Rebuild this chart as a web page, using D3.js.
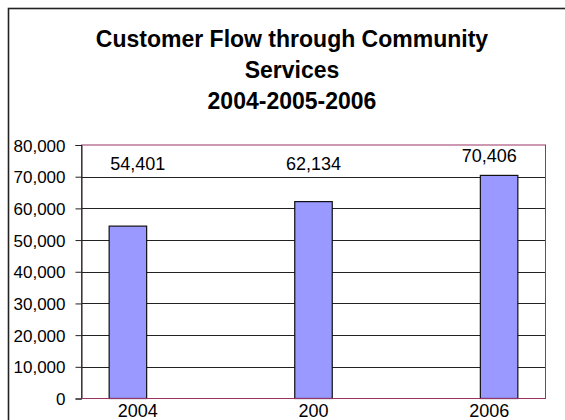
<!DOCTYPE html>
<html>
<head>
<meta charset="utf-8">
<script src="https://cdn.jsdelivr.net/npm/d3@7/dist/d3.min.js"></script>
<style>
  html, body { margin: 0; padding: 0; background: #fff; }
  svg { display: block; font-family: "Liberation Sans", Arial, sans-serif; }
</style>
</head>
<body>
<svg id="chart" width="565" height="420"></svg>
<script>
// Customer flow counts by year
const years = ["2004", "200", "2006"];
const customers = [54401, 62134, 70406];
const yTicks = [0, 10000, 20000, 30000, 40000, 50000, 60000, 70000, 80000];
const titleLines = ["Customer Flow through Community", "Services", "2004-2005-2006"];

const svg = d3.select("#chart");
const plot = { left: 81.5, right: 545.5, top: 145, bottom: 398.5 };

// Outer chart frame (continues past the window on the right and bottom)
svg.append("rect")
  .attr("x", 8.5).attr("y", 8.5)
  .attr("width", 700).attr("height", 700)
  .attr("fill", "#fff")
  .attr("stroke", "#222").attr("stroke-width", 1.6);

// Title
svg.append("g").selectAll("text")
  .data(titleLines)
  .join("text")
  .attr("x", 292)
  .attr("y", (d, i) => 47 + i * 31)
  .attr("text-anchor", "middle")
  .attr("font-size", 23)
  .attr("font-weight", "bold")
  .attr("fill", "#000")
  .text(d => d);

const y = d3.scaleLinear().domain([0, 80000]).range([plot.bottom, plot.top]);
const x = d3.scalePoint().domain(years).range([plot.left, plot.right]).padding(0.25);
const labelX = d3.scalePoint().domain(years).range([plot.left, plot.right]).padding(0.32);
const barW = 37.5;

// Horizontal gridlines
svg.append("g").selectAll("line")
  .data(yTicks.filter(t => t > 0 && t < 80000))
  .join("line")
  .attr("x1", plot.left).attr("x2", plot.right)
  .attr("y1", d => Math.round(y(d)) + 0.5).attr("y2", d => Math.round(y(d)) + 0.5)
  .attr("stroke", "#222").attr("stroke-width", 1);

// Plot frame
svg.append("rect")
  .attr("x", plot.left).attr("y", plot.top)
  .attr("width", plot.right - plot.left).attr("height", plot.bottom - plot.top)
  .attr("fill", "none")
  .attr("stroke", "#993366").attr("stroke-width", 1);

// Y axis
const yAxis = d3.axisLeft(y)
  .tickValues(yTicks)
  .tickSize(6)
  .tickPadding(10)
  .tickFormat(d3.format(","));
const yg = svg.append("g")
  .attr("transform", `translate(${plot.left},0)`)
  .call(yAxis);
yg.select(".domain").attr("stroke", "#2a1020");
yg.selectAll(".tick line").attr("stroke", "#222");
yg.selectAll(".tick text")
  .attr("font-size", 17)
  .attr("font-family", "Liberation Sans, Arial, sans-serif")
  .attr("fill", "#000")
  .attr("dy", "0.36em");

// Bars
svg.append("g").selectAll("rect")
  .data(years.map((yr, i) => ({ yr, v: customers[i] })))
  .join("rect")
  .attr("x", d => x(d.yr) - barW / 2)
  .attr("y", d => y(d.v))
  .attr("width", barW)
  .attr("height", d => y(0) - y(d.v))
  .attr("fill", "#9999FF")
  .attr("stroke", "#111").attr("stroke-width", 1.2);

// Re-draw bottom edge of the plot over the bars
svg.append("line")
  .attr("x1", plot.left).attr("x2", plot.right)
  .attr("y1", plot.bottom).attr("y2", plot.bottom)
  .attr("stroke", "#993366").attr("stroke-width", 1);

// Value labels
svg.append("g").selectAll("text")
  .data(years.map((yr, i) => ({ yr, v: customers[i] })))
  .join("text")
  .attr("x", d => labelX(d.yr))
  .attr("y", d => Math.min(y(d.v) - 13, y(70000) - 7))
  .attr("text-anchor", "middle")
  .attr("font-size", 18)
  .attr("fill", "#000")
  .text(d => d3.format(",")(d.v));

// Category labels
svg.append("g").selectAll("text")
  .data(years)
  .join("text")
  .attr("x", d => labelX(d))
  .attr("y", 417)
  .attr("text-anchor", "middle")
  .attr("font-size", 18)
  .attr("fill", "#000")
  .text(d => d);
</script>
</body>
</html>
